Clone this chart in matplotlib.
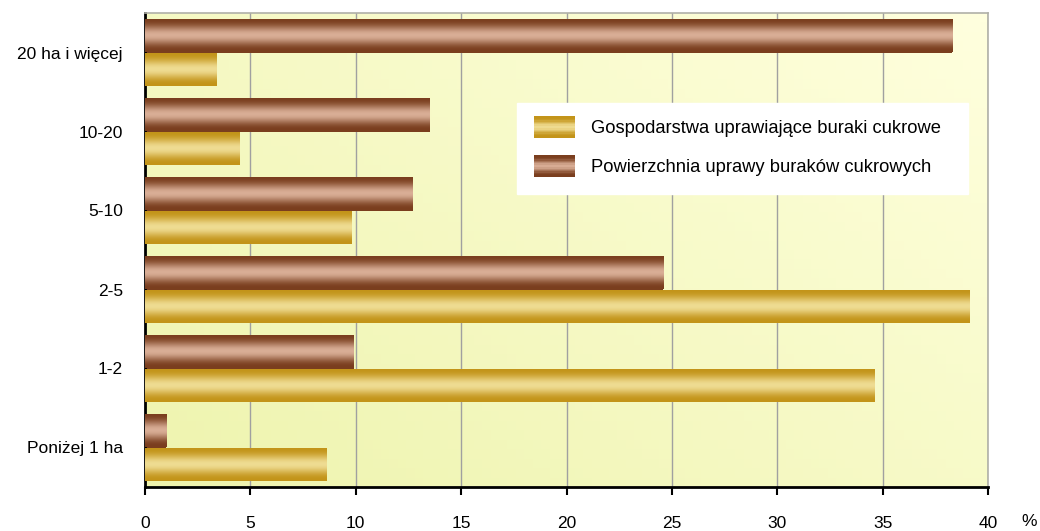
import matplotlib
matplotlib.use("Agg")
import matplotlib.pyplot as plt
import numpy as np
from matplotlib.legend_handler import HandlerBase
from matplotlib.patches import Rectangle
from matplotlib.colors import to_rgb

plt.rcParams['font.family'] = ['Liberation Sans', 'DejaVu Sans']

categories = ['Poniżej 1 ha', '1-2', '2-5', '5-10', '10-20', '20 ha i więcej']
gospodarstwa = [8.6, 34.6, 39.1, 9.8, 4.5, 3.4]
powierzchnia = [1.0, 9.9, 24.6, 12.7, 13.5, 38.3]
labels = ['Gospodarstwa uprawiające buraki cukrowe',
          'Powierzchnia uprawy buraków cukrowych']

gold_edge, gold_mid = '#C39419', '#EFDC92'
brown_edge, brown_mid = '#7A3E1E', '#D9AE96'


def profile(n=64):
    t = np.linspace(0, 1, n)
    # dark at edges, light in the middle
    return np.clip(np.sin(np.pi * t) ** 2.6, 0, 1)


def gradient_img(edge, mid, n=64):
    e, m = np.array(to_rgb(edge)), np.array(to_rgb(mid))
    p = profile(n)[:, None]
    return (e + (m - e) * p)[:, None, :]


fig = plt.figure(figsize=(10.4, 5.31), dpi=100)
ax = fig.add_axes([145 / 1040, 44 / 531, 843 / 1040, 474 / 531])

# background gradient
bg = np.zeros((50, 100, 3))
xx, yy = np.meshgrid(np.linspace(0, 1, 100), np.linspace(0, 1, 50))
w = np.clip(0.55 * xx + 0.45 * yy, 0, 1)[..., None]
bg[:] = np.array(to_rgb('#EEF4AE')) * (1 - w) + np.array(to_rgb('#FFFFDE')) * w
ax.imshow(bg, extent=[0, 1, 0, 1], transform=ax.transAxes, origin='lower',
          aspect='auto', zorder=0)

y = np.arange(len(categories))
h = 0.42
b1 = ax.barh(y - h / 2, gospodarstwa, height=h, color=gold_edge, zorder=2)
b2 = ax.barh(y + h / 2, powierzchnia, height=h, color=brown_edge, zorder=2)

for bars, (e, m) in ((b1, (gold_edge, gold_mid)), (b2, (brown_edge, brown_mid))):
    img = gradient_img(e, m)
    for p in bars:
        x0, y0 = p.get_x(), p.get_y()
        im = ax.imshow(img, extent=[x0, x0 + p.get_width(), y0, y0 + p.get_height()],
                       aspect='auto', zorder=3, origin='lower', interpolation='bilinear')
        im.set_clip_path(p)

ax.set_xlim(0, 40)
ax.set_ylim(-0.5, len(categories) - 0.5)
ax.set_xticks(np.arange(0, 41, 5))
ax.set_yticks(y)
ax.set_yticklabels(categories)
ax.tick_params(axis='y', length=0, pad=16, labelsize=12.5)
ax.tick_params(axis='x', length=6, width=1.5, pad=15, labelsize=12.5, direction='out')
ax.grid(axis='x', color='#A0A0A0', linewidth=1, zorder=1)
ax.set_axisbelow(True)
for s in ('top', 'right'):
    ax.spines[s].set_color('#B0B0A8')
    ax.spines[s].set_linewidth(1.2)
ax.spines['left'].set_linewidth(2)
ax.spines['bottom'].set_linewidth(2)

ax.text(1.049, -0.0738, '%', transform=ax.transAxes, fontsize=12.5,
        ha='center', va='center')


class GradHandler(HandlerBase):
    def __init__(self, edge, mid):
        super().__init__()
        self.edge, self.mid = edge, mid

    def create_artists(self, legend, orig, xd, yd, width, height, fontsize, trans):
        arts = []
        n = 16
        cols = gradient_img(self.edge, self.mid, n)[:, 0, :]
        hh = height * 1.65
        y0 = yd - (hh - height) / 2
        for i in range(n):
            r = Rectangle((xd, y0 + hh * i / n), width, hh / n + 0.3,
                          facecolor=cols[i], edgecolor='none', transform=trans)
            arts.append(r)
        return arts


h1 = Rectangle((0, 0), 1, 1)
h2 = Rectangle((0, 0), 1, 1)
leg = ax.legend([h1, h2], labels, loc='upper left',
                bbox_to_anchor=(0.441, 0.627, 0.535, 0.183), mode='expand',
                handler_map={h1: GradHandler(gold_edge, gold_mid),
                             h2: GradHandler(brown_edge, brown_mid)},
                fontsize=13.2, frameon=True, fancybox=False, framealpha=1,
                edgecolor='white', handlelength=2.2, handletextpad=0.9,
                labelspacing=1.2, borderpad=0.95, borderaxespad=0)
leg.set_zorder(5)

fig.savefig('out.png', dpi=100)
